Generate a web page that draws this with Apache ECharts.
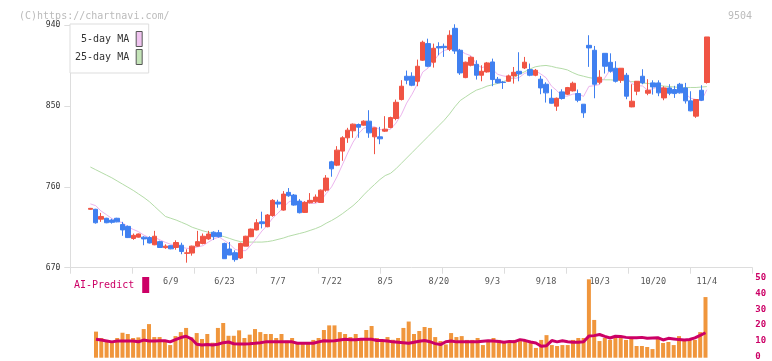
<!DOCTYPE html>
<html>
<head>
<meta charset="utf-8">
<script src="https://cdn.jsdelivr.net/npm/echarts@6/dist/echarts.min.js"></script>
<style>html,body{margin:0;padding:0;background:#fff}#c{width:772px;height:361px}</style>
</head>
<body>
<div id="c"></div>
<script>
const dates = ['5/19','5/20','5/21','5/22','5/23','5/26','5/27','5/28','5/29','5/30',
'6/2','6/3','6/4','6/5','6/6','6/9','6/10','6/11','6/12','6/13',
'6/16','6/17','6/18','6/19','6/20','6/23','6/24','6/25','6/26','6/27',
'6/30','7/1','7/2','7/3','7/4','7/7','7/8','7/9','7/10','7/11',
'7/14','7/15','7/16','7/17','7/18','7/22','7/23','7/24','7/25',
'7/28','7/29','7/30','7/31','8/1','8/4','8/5','8/6','8/7','8/8',
'8/12','8/13','8/14','8/15','8/18','8/19','8/20','8/21','8/22',
'8/25','8/26','8/27','8/28','8/29','9/1','9/2','9/3','9/4','9/5',
'9/8','9/9','9/10','9/11','9/12','9/16','9/17','9/18','9/19',
'9/22','9/24','9/25','9/26','9/29','9/30','10/1','10/2','10/3',
'10/6','10/7','10/8','10/9','10/10','10/14','10/15','10/16','10/17',
'10/20','10/21','10/22','10/23','10/24','10/27','10/28','10/29','10/30','10/31','11/4'];

const xLabels = ['6/9','6/23','7/7','7/22','8/5','8/20','9/3','9/18','10/3','10/20','11/4'];

const open = [735,735,724,725,723,725,718,716,702.5,704,
704,703.5,695.5,699,692.3,694.5,692.5,695,686,686.3,
694,697,702,709.5,709,697,690.8,686.7,680.8,694,
704.5,712,721,715.6,728,743,734.1,753.8,750.8,744.1,
731.5,742.2,743.4,742.6,756.3,787.8,784.1,799.7,814.5,822.3,
829.3,828.6,833,815.6,815.6,821.9,826,836,857.1,883,
883,877.4,900.8,919.3,898.6,916,916.3,913,936.3,911.9,
881.5,895.2,896.3,884.1,887.8,898.9,879.6,876.5,877.4,883.4,
888.5,892.2,890.4,884.1,879.7,874.1,858.5,849.7,865.6,863,
866.7,863.7,851.9,917.4,911.9,876.3,908.5,898.5,891.9,878.6,
884.1,848.9,866.3,883,864.1,875.6,875.6,858.9,870,868.2,
874.1,870,855.6,838.6,867.4,876];
const close = [736,720,727,720,720.5,721,712,703.5,706,707.5,
702,697.5,705,692.5,694,691,698,688,686.5,694,
699,705,707.5,704.5,704.5,680,684.1,679,697,705,
713,720,719,728.6,744.9,740.8,751.9,750,739.7,731.2,
742.6,744.9,748.6,756.3,769.7,780,800.8,814.5,823,829.7,
826.3,833,820,825.6,813.4,824.1,837,854,871.9,878.6,
873,894.1,920.8,894.1,914.1,914.5,914.8,928.6,911.1,886.7,
898.6,904.1,884.1,888.5,897.8,879.3,875.6,876,883.4,887.4,
885.6,898.6,884.1,889.6,870,864.5,853,858.5,858.2,870.4,
875.2,856.3,842.3,914.5,874.1,881.9,894.1,888.6,877.4,891.9,
860.8,855.2,877.4,875.6,867.4,871.1,864.5,870,864.1,863.7,
864.5,855.6,844.5,857.1,856.3,926.7];
const low = [734.5,719,721,719.5,719,720.5,705.5,703,701,703.5,
695,697,695,692,691,690.5,690,685,675.6,683.4,
693.5,696,701,700.8,703.5,680,684,676.7,679.7,694,
704,711.5,713.7,715,726.7,736.7,733.4,748.9,739,730.4,
731,741.5,742,742.3,754.5,771.2,783,788.9,808.9,814.5,
814.5,828,814.5,796.3,807.4,821,825,834,856,874.1,
871.9,871.9,900,893,892.6,906.3,904.5,911,907.8,884.5,
880.8,894,879.3,877.4,887,871.9,875,868.9,877,874.8,
877.4,891,883,883,863,853.7,852.6,844.5,857,862,
866,854.1,836.7,893.4,858.5,874.1,886,887,876,875.6,
857.4,848.5,861.9,874.1,861.9,862.6,860.8,856.3,861.9,858.9,
863.7,852.6,844,836.7,855.5,874.8];
const high = [736.5,735.5,731,725.5,724.5,725.5,721,717,708,708,
705,705,711,700,696,695,700.5,697.8,690.5,694.5,
711,708,711,710.5,712,697.8,698.6,689.3,697.8,705.5,
713.5,724,732.3,729.7,746.3,745.6,755.2,758.6,752,746.3,
744,753,751.5,757,773,788.9,805.2,816.3,825.6,830.4,
830.4,834,845.2,826,826.7,838.6,838,857,878.6,889.3,
887.4,901.5,922.6,924.8,919.3,920.8,919.3,934.1,940.8,913.4,
899.3,905.2,900.8,895.2,898.9,902.6,882.2,877.8,884.8,893.3,
909.7,904.5,897.1,891.1,883.4,876.3,868.5,859.3,868.5,871.1,
877,868.2,852,928.6,916.7,889.7,908.5,908.5,899.7,892,
886.7,874.1,877.5,890.8,879.7,878.5,878.5,871.9,874.1,872.3,
875.6,875.6,866.3,857.5,873,926.7];

const ma5 = [741,739,733,729,724.7,721.7,720.1,715.4,712.6,710,
706.2,703.3,703.6,700.9,698.2,696,696.1,692.7,691.5,691.5,
693.1,694.5,698.4,702,704.1,700.3,696.1,690.4,688.9,689,
695.6,702.8,710.8,717.1,725.1,730.7,737,743.2,745.5,742.7,
743.1,741.7,741.4,744.7,752.4,759.9,771.1,784.3,797.6,809.6,
818.9,825.3,826.4,826.9,823.7,823.2,824,830.8,840.1,853.1,
862.9,874.3,887.7,892.1,899.2,907.5,911.7,913.2,916.6,911.1,
908,905.8,896.9,892.4,894.6,890.8,885.1,883.4,882.4,880.3,
881.6,886.2,887.8,889.1,885.6,881.4,872.2,867.1,860.8,860.9,
863.1,863.7,860.5,871.7,872.5,873.8,881.4,890.6,883.2,886.8,
882.6,874.8,872.5,872.2,867.3,869.3,871.2,869.7,867.4,866.7,
865.4,863.6,858.5,857.1,855.6,868];

const ma25 = [782,779,776,773,770,766.5,763,759.5,756,752,
748,743.5,738,732.5,727,725,723,720.5,718,715,
713,711,709.5,708,706,704.5,702.5,700.5,699,698.5,
698.5,698.5,698.5,699,700,701.5,703,705,706.5,708,
709.5,711.5,713.5,716,719.5,722.5,726,730,734.5,739,
744.5,751,757,762.5,768,772.5,775,780,786,792,
798,804,810,816,822,828,834,841,849,856,
860,864,867.5,869.5,872,873.5,875,877,879,881.5,
885,888,891,893.5,894.5,895,894,892.5,891.5,890,
887,884.5,883,881.5,880.5,880,879,879,878.5,878.5,
877.5,877,876.5,875.5,875,874,873,872,871.5,871,
870.5,870.5,870.5,870.5,871,871.5];

const volume = [16.3,12.3,11.1,10.1,12.3,15.6,14.8,12.3,12.7,17.9,
21.0,12.9,12.9,11.1,7.9,13.5,16.0,18.6,12.7,15.4,
11.7,14.8,9.4,18.6,21.7,13.7,13.7,17.1,12.3,14.4,
17.9,16.0,14.8,14.8,12.3,14.8,10.7,12.3,9.8,9.8,
9.8,11.1,12.3,17.3,20.2,20.2,16.0,14.8,12.9,14.8,
12.3,17.3,19.8,12.3,11.1,12.9,11.2,12.3,18.6,22.6,
14.8,16.7,19.2,18.6,12.9,10.4,8.3,15.4,12.9,13.5,
11.1,11.1,12.3,7.9,9.8,12.3,11.1,9.8,9.8,11.1,
10.4,11.1,9.8,6.1,11.1,14.1,7.9,7.3,7.9,7.9,
11.1,12.3,12.3,49.0,23.6,10.4,12.3,11.1,12.3,12.3,
11.1,12.3,7.3,7.3,6.7,5.4,11.7,9.2,9.8,7.9,
13.5,11.7,11.1,11.1,16.0,37.9];

const aiPredict = [11.5,11.0,10.5,9.9,10.4,10.5,10.5,10.5,10.0,11.0,
10.5,10.5,10.6,10.6,9.9,11.3,12.6,13.4,11.8,8.4,
7.9,8.3,8.0,8.4,9.4,9.8,8.7,8.6,8.6,8.7,
9.0,9.4,9.9,9.9,9.9,9.9,9.9,9.9,9.0,9.0,
9.0,9.0,9.9,10.6,10.5,10.6,11.1,11.5,11.2,11.2,
11.5,11.5,11.5,10.8,10.7,10.4,9.9,9.6,9.3,9.0,
9.6,10.3,10.7,10.0,8.8,8.2,10.0,10.5,9.9,9.9,
9.9,9.9,9.9,10.3,10.6,10.4,10.1,9.6,10.2,10.0,
11.3,10.7,9.8,9.2,7.2,7.5,10.7,9.9,10.6,10.0,
9.6,9.6,10.0,13.5,13.8,14.5,13.3,12.3,13.4,13.2,
12.7,12.4,12.4,12.7,12.1,12.3,12.5,11.1,12.1,11.7,
11.3,11.1,11.4,12.4,14.0,15.6];

const priceMin = 670, priceMax = 940, priceStep = 90;
const volMin = 0, volMax = 50, volStep = 10;

const mono = "'DejaVu Sans Mono','Liberation Mono',monospace";
const UP = '#f05444', DOWN = '#4080f0';
const candleData = dates.map((d, i) => [open[i], close[i], low[i], high[i]]);

const chart = echarts.init(document.getElementById('c'), null, {renderer: 'canvas'});
chart.setOption({
  animation: false,
  backgroundColor: '#fff',
  title: [
    {text: '(C)https://chartnavi.com/', left: 14, top: 6,
     textStyle: {fontFamily: mono, fontSize: 10, fontWeight: 'normal', color: '#bbb'}},
    {text: '9504', right: 15, top: 6,
     textStyle: {fontFamily: mono, fontSize: 10, fontWeight: 'normal', color: '#bbb'}}
  ],
  legend: [
    {data: [
       {name: ' 5-day MA', icon: 'rect', itemStyle: {color: '#f0c4f0', borderColor: '#555', borderWidth: 1}},
       {name: '25-day MA', icon: 'rect', itemStyle: {color: '#c4e4b8', borderColor: '#555', borderWidth: 1}}
     ],
     orient: 'vertical', align: 'right', left: 70, top: 24,
     padding: [7, 6, 8, 5], itemWidth: 6, itemHeight: 15, itemGap: 2,
     borderColor: '#ddd', borderWidth: 1, backgroundColor: '#fff', selectedMode: false,
     textStyle: {fontFamily: mono, fontSize: 10, color: '#333', padding: [0, 2, 0, 0]}},
    {data: [{name: 'AI-Predict', icon: 'rect', itemStyle: {color: '#cc0066'}}],
     orient: 'horizontal', align: 'right', left: 74, top: 277, padding: 0,
     itemWidth: 7, itemHeight: 16, selectedMode: false,
     textStyle: {fontFamily: mono, fontSize: 10, color: '#cc0066', padding: [0, 3, 0, 0]}}
  ],
  grid: [
    {left: 87.7, right: 62.5, top: 25, bottom: 93.3},
    {left: 70.3, right: 19.7, top: 25, bottom: 93.3},
    {left: 93.35, right: 63.85, top: 277.7, bottom: 3.3},
    {left: 70.3, right: 19.7, top: 277.7, bottom: 3.3}
  ],
  xAxis: [
    {type: 'category', gridIndex: 0, data: dates,
     axisLine: {show: false}, axisTick: {show: false}, splitLine: {show: false},
     axisLabel: {interval: (i, v) => xLabels.includes(v), margin: 9.5,
                 fontFamily: mono, fontSize: 8.5, color: '#555'}},
    {type: 'value', gridIndex: 1, min: 0, max: 11, interval: 1,
     axisLine: {show: true, lineStyle: {color: '#ddd'}},
     axisTick: {show: true, length: 6, lineStyle: {color: '#ddd'}},
     axisLabel: {show: false}, splitLine: {show: false}},
    {type: 'category', gridIndex: 2, data: dates, show: false},
    {type: 'value', gridIndex: 3, min: 0, max: 1, show: false}
  ],
  yAxis: [
    {type: 'value', gridIndex: 0, min: priceMin, max: priceMax, show: false},
    {type: 'value', gridIndex: 1, min: priceMin, max: priceMax, interval: priceStep,
     axisLine: {show: true, lineStyle: {color: '#ddd'}},
     axisTick: {show: true, length: 6, lineStyle: {color: '#ddd'}},
     axisLabel: {margin: 10, fontFamily: mono, fontSize: 8, color: '#333'},
     splitLine: {show: false}},
    {type: 'value', gridIndex: 2, min: volMin, max: volMax, show: false},
    {type: 'value', gridIndex: 3, min: volMin, max: volMax, interval: volStep, position: 'right',
     axisLine: {show: false}, axisTick: {show: false}, splitLine: {show: false},
     axisLabel: {margin: 3, fontFamily: mono, fontSize: 9, fontWeight: 'bold', color: '#cc0066'}}
  ],
  series: [
    {name: '25-day MA', type: 'line', xAxisIndex: 0, yAxisIndex: 0, data: ma25,
     symbol: 'none', color: '#b4dca8', lineStyle: {width: 1, color: '#b4dca8'}, z: 1},
    {name: ' 5-day MA', type: 'line', xAxisIndex: 0, yAxisIndex: 0, data: ma5,
     symbol: 'none', color: '#ecb4ee', lineStyle: {width: 1, color: '#ecb4ee'}, z: 1},
    {name: 'price', type: 'candlestick', xAxisIndex: 0, yAxisIndex: 0, data: candleData,
     barWidth: 5, clip: false, z: 3,
     itemStyle: {color: UP, color0: DOWN, borderColor: UP, borderColor0: DOWN, borderWidth: 1}},
    {name: 'volume', type: 'bar', xAxisIndex: 2, yAxisIndex: 2, data: volume,
     barWidth: 4, itemStyle: {color: '#f0963c'}, z: 2},
    {name: 'AI-Predict', type: 'line', xAxisIndex: 2, yAxisIndex: 2, data: aiPredict,
     symbol: 'none', color: '#cc0066', lineStyle: {width: 3, color: '#cc0066'}, z: 3}
  ]
});
</script>
</body>
</html>
